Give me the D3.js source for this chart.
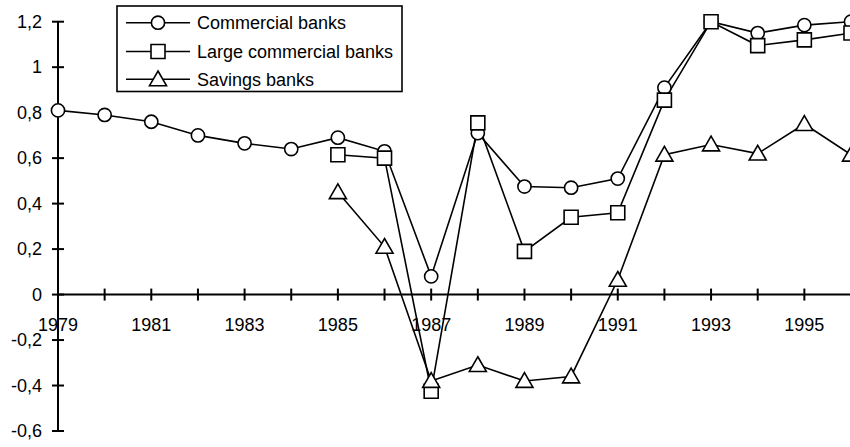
<!DOCTYPE html>
<html lang="en">
<head>
  <meta charset="UTF-8">
  <title>Bank returns</title>
  <style>
    body { margin: 0; background: #fff; }
    svg { display: block; font-family: "Liberation Sans", Arial, sans-serif; }
    .line { fill: none; stroke: #000; stroke-width: 1.6px; }
    .marker { fill: #fff; stroke: #000; stroke-width: 1.6px; }
    .axis-line { stroke: #000; stroke-width: 2px; }
    text { font-size: 18px; fill: #000; }
  </style>
</head>
<body>
  <svg width="850" height="447"></svg>

  <script src="https://d3js.org/d3.v7.min.js"></script>
  <script>
    const years = d3.range(1979, 1997);

    // values per year, null where the series has no data
    const commercial = [0.81, 0.79, 0.76, 0.70, 0.665, 0.64, 0.69, 0.63, 0.08,
                        0.71, 0.475, 0.47, 0.51, 0.91, 1.20, 1.15, 1.185, 1.20];
    const largeCommercial = [null, null, null, null, null, null, 0.615, 0.60, -0.425,
                             0.755, 0.19, 0.34, 0.36, 0.855, 1.20, 1.095, 1.12, 1.15];
    const savings = [null, null, null, null, null, null, 0.45, 0.21, -0.38,
                     -0.31, -0.38, -0.36, 0.065, 0.615, 0.66, 0.62, 0.75, 0.615];

    const seriesNames = ["Commercial banks", "Large commercial banks", "Savings banks"];
    const seriesShapes = ["circle", "square", "triangle"];
    const yTicks = [-0.6, -0.4, -0.2, 0, 0.2, 0.4, 0.6, 0.8, 1, 1.2];
    const xLabels = [1979, 1981, 1983, 1985, 1987, 1989, 1991, 1993, 1995];

    const svg = d3.select("svg");

    const x = d3.scaleLinear().domain([1979, 1996]).range([58, 851]);
    const y = d3.scaleLinear().domain([-0.6, 1.2]).range([431, 21.7]);

    const fmt = v => String(+v.toFixed(1)).replace(".", ",");

    // y axis
    svg.append("line").attr("class", "axis-line")
      .attr("x1", x(1979)).attr("x2", x(1979))
      .attr("y1", y(-0.6)).attr("y2", y(1.2));
    svg.selectAll(".ytick").data(yTicks).enter().append("line")
      .attr("class", "axis-line ytick")
      .attr("x1", x(1979) - 6).attr("x2", x(1979) + 6)
      .attr("y1", d => y(d)).attr("y2", d => y(d));
    svg.selectAll(".ylab").data(yTicks).enter().append("text")
      .attr("class", "ylab")
      .attr("x", 42).attr("y", d => y(d))
      .attr("dy", "0.35em")
      .attr("text-anchor", "end")
      .text(fmt);

    // x axis at zero
    svg.append("line").attr("class", "axis-line")
      .attr("x1", x(1979)).attr("x2", 850)
      .attr("y1", y(0)).attr("y2", y(0));
    svg.selectAll(".xtick").data(years.filter(d => d < 1996)).enter().append("line")
      .attr("class", "axis-line xtick")
      .attr("x1", d => x(d)).attr("x2", d => x(d))
      .attr("y1", y(0) - 6).attr("y2", y(0) + 6);
    svg.selectAll(".xlab").data(xLabels).enter().append("text")
      .attr("class", "xlab")
      .attr("x", d => x(d)).attr("y", y(0) + 36)
      .attr("text-anchor", "middle")
      .text(d => d);

    const symbols = {
      circle: d3.symbol().type(d3.symbolCircle).size(Math.PI * 6.6 * 6.6),
      square: d3.symbol().type(d3.symbolSquare).size(14 * 14),
      triangle: d3.symbol().type(d3.symbolTriangle).size(125)
    };

    const line = d3.line()
      .defined(d => d.v !== null)
      .x(d => x(d.year))
      .y(d => y(d.v));

    const allSeries = [commercial, largeCommercial, savings];

    allSeries.forEach((vals, i) => {
      const pts = years.map((yr, j) => ({ year: yr, v: vals[j] }));
      svg.append("path").datum(pts).attr("class", "line").attr("d", line);
    });

    allSeries.forEach((vals, i) => {
      const pts = years.map((yr, j) => ({ year: yr, v: vals[j] })).filter(d => d.v !== null);
      svg.selectAll(".m" + i).data(pts).enter().append("path")
        .attr("class", "marker m" + i)
        .attr("transform", d => `translate(${x(d.year)},${y(d.v) + (seriesShapes[i] === "triangle" ? 1.5 : 0)})`)
        .attr("d", symbols[seriesShapes[i]]());
    });

    // legend
    const lg = svg.append("g");
    lg.append("rect")
      .attr("x", 117).attr("y", 6).attr("width", 285).attr("height", 85.5)
      .attr("fill", "#fff").attr("stroke", "#000").attr("stroke-width", 1.6);
    const rowY = [22.7, 51.5, 79.3];
    seriesNames.forEach((name, i) => {
      lg.append("line").attr("class", "line")
        .attr("x1", 126).attr("x2", 190)
        .attr("y1", rowY[i]).attr("y2", rowY[i]);
      lg.append("path").attr("class", "marker")
        .attr("transform", `translate(158,${rowY[i] + (seriesShapes[i] === "triangle" ? 1.5 : 0)})`)
        .attr("d", symbols[seriesShapes[i]]());
      lg.append("text")
        .attr("x", 197).attr("y", rowY[i]).attr("dy", "0.35em")
        .text(name);
    });
  </script>
</body>
</html>
